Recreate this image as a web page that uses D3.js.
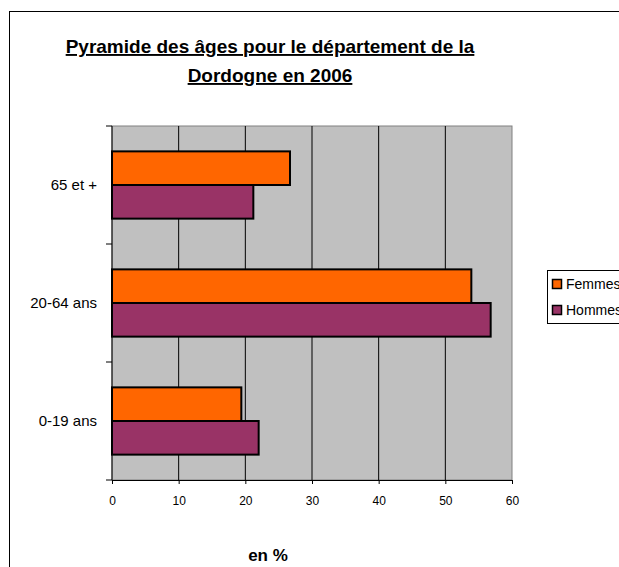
<!DOCTYPE html>
<html>
<head>
<meta charset="utf-8">
<script src="https://cdn.jsdelivr.net/npm/d3@7"></script>
<style>
  body { margin: 0; background: #fff; }
  text { font-family: "Liberation Sans", Arial, sans-serif; }
</style>
</head>
<body>
<div id="chart"></div>
<script>
// data
var categories = ["65 et +", "20-64 ans", "0-19 ans"];
var seriesNames = ["Femmes", "Hommes"];
var femmes = [26.7, 53.9, 19.4];
var hommes = [21.2, 56.8, 22.0];
var xTicks = [0, 10, 20, 30, 40, 50, 60];
var colors = ["#FF6600", "#993366"];

var width = 619, height = 567;
var margin = {top: 126, left: 112, right: 107, bottom: 87};
var plotW = width - margin.left - margin.right,
    plotH = height - margin.top - margin.bottom;

var svg = d3.select("#chart")
  .append("svg")
    .attr("width", width)
    .attr("height", height);

// outer chart border
svg.append("rect")
  .attr("x", 9.5).attr("y", 11.5)
  .attr("width", 700).attr("height", 700)
  .attr("fill", "white")
  .attr("stroke", "black");

// title
var title = svg.append("text")
  .attr("text-anchor", "middle")
  .attr("font-size", "19px")
  .attr("font-weight", "bold")
  .attr("text-decoration", "underline");
title.append("tspan").attr("x", 270).attr("y", 53).text("Pyramide des âges pour le département de la");
title.append("tspan").attr("x", 270).attr("y", 82).text("Dordogne en 2006");

var g = svg.append("g")
  .attr("transform", "translate(" + margin.left + "," + margin.top + ")");

var x = d3.scaleLinear().domain([0, 60]).range([0, plotW]);
var y = d3.scaleBand()
  .domain(categories)
  .range([0, plotH])
  .paddingInner(0.43)
  .paddingOuter(0.215);
var ySub = d3.scaleBand()
  .domain(seriesNames)
  .range([0, y.bandwidth()]);

// plot background
g.append("rect")
  .attr("width", plotW).attr("height", plotH)
  .attr("fill", "#C0C0C0")
  .attr("stroke", "#808080");

// vertical gridlines
g.selectAll(".grid")
  .data(xTicks.slice(1, -1))
  .enter()
  .append("line")
    .attr("x1", function(d) { return x(d); })
    .attr("x2", function(d) { return x(d); })
    .attr("y1", 0).attr("y2", plotH)
    .attr("stroke", "black");

// bars
var rows = categories.map(function(c, i) {
  return {cat: c, values: [femmes[i], hommes[i]]};
});
var grp = g.selectAll(".row")
  .data(rows)
  .enter()
  .append("g")
    .attr("transform", function(d) { return "translate(0," + y(d.cat) + ")"; });
grp.selectAll("rect")
  .data(function(d) { return d.values.map(function(v, j) { return {name: seriesNames[j], v: v, j: j}; }); })
  .enter()
  .append("rect")
    .attr("x", x(0))
    .attr("y", function(d) { return ySub(d.name); })
    .attr("width", function(d) { return x(d.v) - x(0); })
    .attr("height", ySub.bandwidth())
    .attr("fill", function(d) { return colors[d.j]; })
    .attr("stroke", "black")
    .attr("stroke-width", 2);

// x axis
var xAxis = g.append("g")
  .attr("transform", "translate(0," + plotH + ")")
  .call(d3.axisBottom(x).tickValues(xTicks).tickSize(4).tickPadding(12));
xAxis.select(".domain").attr("stroke", "black");
xAxis.selectAll("text").attr("font-size", "12px").attr("fill", "black")
  .style("font-family", "Liberation Sans, Arial, sans-serif");

// y axis: ticks at category boundaries
var yBounds = [0].concat(categories.map(function(c) { return y(c) + y.bandwidth() + y.step() * y.paddingInner() / 2; }));
g.append("line")
  .attr("x1", 0).attr("x2", 0).attr("y1", 0).attr("y2", plotH)
  .attr("stroke", "black");
g.selectAll(".ytick")
  .data(yBounds)
  .enter()
  .append("line")
    .attr("x1", -6).attr("x2", 0)
    .attr("y1", function(d) { return d; })
    .attr("y2", function(d) { return d; })
    .attr("stroke", "black");
g.selectAll(".ylab")
  .data(categories)
  .enter()
  .append("text")
    .attr("x", -15)
    .attr("y", function(d) { return y(d) + y.bandwidth() / 2; })
    .attr("dy", "0.35em")
    .attr("text-anchor", "end")
    .attr("font-size", "15px")
    .text(function(d) { return d; });

// x axis title
svg.append("text")
  .attr("x", 268).attr("y", 561)
  .attr("text-anchor", "middle")
  .attr("font-size", "17px")
  .attr("font-weight", "bold")
  .text("en %");

// legend
var legend = svg.append("g").attr("transform", "translate(547,270)");
legend.append("rect")
  .attr("x", 0.5).attr("y", 0.5)
  .attr("width", 100).attr("height", 53)
  .attr("fill", "white").attr("stroke", "black");
seriesNames.forEach(function(n, i) {
  legend.append("rect")
    .attr("x", 5.5).attr("y", 9.5 + i * 26)
    .attr("width", 9).attr("height", 9)
    .attr("fill", colors[i]).attr("stroke", "black").attr("stroke-width", 1.5);
  legend.append("text")
    .attr("x", 19).attr("y", 19 + i * 26)
    .attr("font-size", "14px")
    .text(n);
});
</script>
</body>
</html>
